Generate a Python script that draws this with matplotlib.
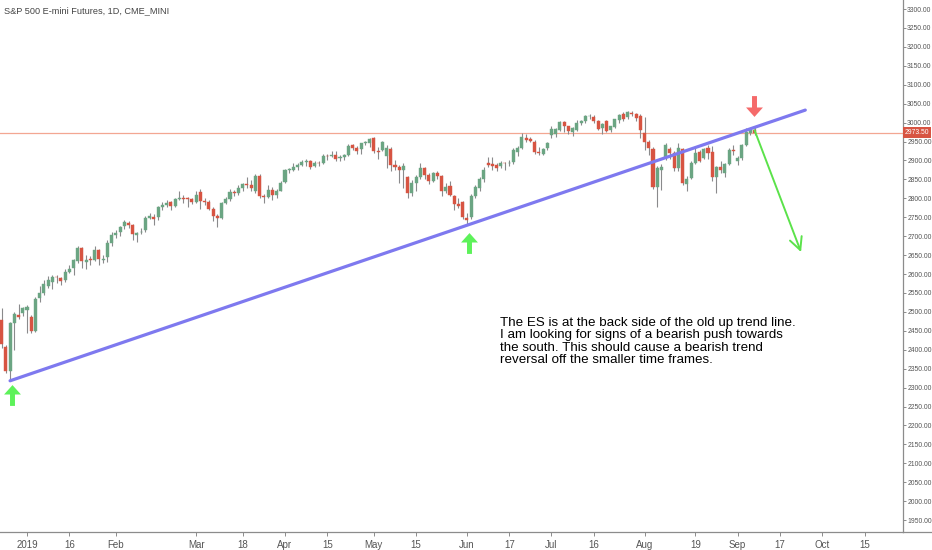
import numpy as np
import pandas as pd
import matplotlib
matplotlib.use("Agg")
import matplotlib.pyplot as plt
from matplotlib.lines import Line2D
from matplotlib.path import Path
from matplotlib.transforms import offset_copy, blended_transform_factory

plt.rcParams['font.family'] = ['Liberation Sans', 'DejaVu Sans']

# trading calendar (NYSE holidays skipped, like the chart's x axis)
holidays = ['2018-12-25', '2019-01-01', '2019-01-21', '2019-02-18',
            '2019-04-19', '2019-05-27', '2019-07-04', '2019-09-02',
            '2019-11-28']
first_day = '2018-12-21'
last_axis_day = '2019-11-15'

# daily OHLC, Dec 21 2018 .. Sep 9 2019
opens = [
    2478, 2407, 2343, 2470, 2492, 2497,
    2505, 2487, 2449, 2537, 2550, 2569, 2579, 2593, 2590, 2584, 2605, 2616, 2634, 2670, 2631, 2637, 2637, 2664, 2636, 2645, 2682,
    2703, 2710, 2726, 2734, 2730, 2704, 2710, 2716, 2748, 2750, 2750, 2778, 2783, 2790, 2780, 2797, 2800, 2798, 2797,
    2790, 2817, 2792, 2790, 2772, 2752, 2748, 2788, 2797, 2816, 2813, 2828, 2838, 2836, 2820, 2860, 2805, 2803, 2822, 2810, 2820,
    2842, 2875, 2876, 2882, 2888, 2895, 2899, 2886, 2894, 2893, 2913, 2911, 2915, 2906, 2909, 2914, 2940, 2933, 2931, 2945, 2946,
    2958, 2926, 2928, 2912, 2930, 2888, 2883, 2874, 2856, 2815, 2840, 2855, 2879, 2862, 2845, 2868, 2859, 2820, 2833, 2806, 2785, 2790,
    2747, 2750, 2806, 2828, 2850, 2893, 2891, 2888, 2886, 2892, 2893, 2896, 2922, 2933, 2960, 2956, 2948, 2923, 2918, 2933,
    2967, 2970, 2980, 3001, 2990, 2975, 2980, 2999, 3004, 3017, 3015, 3004, 2985, 3004, 2980, 2988, 3007, 3024, 3015, 3026, 3023, 3017,
    2972, 2948, 2930, 2830, 2875, 2906, 2930, 2920, 2880, 2930, 2838, 2853, 2893, 2922, 2906, 2933, 2922, 2856, 2883, 2867, 2891, 2928,
    2898, 2906, 2941, 2973, 2980,
]
highs = [
    2510, 2412, 2473, 2500, 2522, 2514,
    2519, 2493, 2540, 2568, 2585, 2596, 2598, 2598, 2593, 2614, 2625, 2640, 2675, 2672, 2651, 2648, 2675, 2666, 2650, 2690, 2710,
    2716, 2727, 2742, 2740, 2732, 2712, 2722, 2752, 2762, 2758, 2780, 2790, 2795, 2793, 2800, 2818, 2808, 2804, 2800,
    2820, 2824, 2800, 2795, 2776, 2758, 2790, 2804, 2825, 2822, 2834, 2840, 2857, 2848, 2864, 2864, 2812, 2834, 2830, 2825, 2845,
    2878, 2880, 2893, 2892, 2900, 2903, 2900, 2898, 2899, 2917, 2918, 2924, 2925, 2914, 2918, 2943, 2944, 2938, 2946, 2952, 2960,
    2962, 2935, 2952, 2940, 2935, 2900, 2888, 2894, 2860, 2848, 2862, 2892, 2883, 2866, 2870, 2872, 2861, 2840, 2845, 2808, 2800, 2792,
    2762, 2812, 2834, 2856, 2882, 2910, 2910, 2892, 2898, 2896, 2902, 2934, 2937, 2972, 2970, 2962, 2955, 2935, 2932, 2949,
    2990, 2985, 3003, 3004, 2992, 2988, 3008, 3008, 3020, 3022, 3020, 3008, 2998, 3008, 2992, 3010, 3022, 3028, 3030, 3030, 3025, 3022,
    3016, 2955, 2935, 2885, 2890, 2945, 2935, 2925, 2945, 2932, 2858, 2898, 2935, 2928, 2932, 2940, 2938, 2885, 2898, 2893, 2933, 2942,
    2912, 2943, 2985, 2985, 2990,
]
lows = [
    2405, 2338, 2317, 2400, 2480, 2490,
    2443, 2443, 2446, 2525, 2545, 2562, 2560, 2577, 2570, 2580, 2602, 2598, 2630, 2615, 2614, 2625, 2635, 2625, 2630, 2632, 2675,
    2695, 2700, 2720, 2722, 2690, 2685, 2705, 2712, 2745, 2730, 2742, 2770, 2778, 2770, 2776, 2795, 2788, 2778, 2785,
    2788, 2772, 2782, 2768, 2740, 2725, 2745, 2784, 2792, 2806, 2810, 2820, 2828, 2818, 2815, 2800, 2788, 2800, 2795, 2802, 2818,
    2840, 2868, 2872, 2876, 2885, 2885, 2878, 2882, 2886, 2890, 2900, 2908, 2898, 2898, 2902, 2911, 2928, 2917, 2918, 2940, 2935,
    2920, 2905, 2924, 2880, 2873, 2876, 2840, 2827, 2800, 2805, 2818, 2852, 2850, 2838, 2842, 2852, 2806, 2815, 2805, 2768, 2775, 2745,
    2730, 2745, 2800, 2818, 2843, 2884, 2874, 2872, 2881, 2876, 2886, 2890, 2912, 2930, 2950, 2948, 2916, 2915, 2915, 2928,
    2960, 2962, 2978, 2975, 2970, 2965, 2978, 2993, 3000, 3010, 3000, 2980, 2970, 2975, 2975, 2985, 3000, 3005, 3010, 3018, 3005, 2959,
    2928, 2915, 2825, 2778, 2822, 2900, 2905, 2873, 2873, 2835, 2820, 2850, 2890, 2895, 2903, 2905, 2845, 2814, 2866, 2855, 2889, 2915,
    2888, 2900, 2938, 2968, 2966,
]
closes = [
    2414, 2343, 2470, 2495, 2487, 2510,
    2512, 2449, 2535, 2550, 2574, 2583, 2593, 2591, 2581, 2606, 2613, 2637, 2670, 2634, 2638, 2636, 2664, 2641, 2640, 2682, 2703,
    2708, 2724, 2738, 2730, 2705, 2708, 2711, 2748, 2752, 2745, 2777, 2783, 2788, 2780, 2797, 2800, 2798, 2797, 2790,
    2810, 2792, 2790, 2772, 2752, 2748, 2788, 2797, 2816, 2813, 2828, 2838, 2836, 2828, 2860, 2805, 2803, 2822, 2810, 2820, 2840,
    2875, 2877, 2882, 2888, 2896, 2899, 2884, 2894, 2892, 2913, 2911, 2914, 2905, 2909, 2915, 2938, 2933, 2926, 2945, 2949, 2956,
    2924, 2921, 2948, 2934, 2888, 2883, 2874, 2886, 2813, 2840, 2856, 2879, 2862, 2845, 2868, 2859, 2820, 2829, 2808, 2785, 2781, 2750,
    2742, 2806, 2830, 2852, 2876, 2889, 2885, 2880, 2893, 2891, 2894, 2928, 2934, 2962, 2953, 2952, 2922, 2919, 2930, 2946,
    2983, 2983, 3001, 2990, 2977, 2985, 2999, 3004, 3017, 3018, 3004, 2983, 2995, 2977, 2990, 3009, 3020, 3010, 3028, 3023, 3012, 2980,
    2948, 2933, 2830, 2880, 2883, 2940, 2920, 2880, 2933, 2840, 2851, 2893, 2920, 2898, 2930, 2920, 2856, 2883, 2875, 2891, 2928, 2926,
    2906, 2941, 2975, 2980, 2973.5,
]

# drawings on the chart
trend_start = ('2018-12-26', 2318)
trend_end = ('2019-09-25', 3033)
target_start = ('2019-09-09', 2980)
target_end = ('2019-09-24', 2658)
up_marks = ['2018-12-26', '2019-06-03']
down_marks = ['2019-09-09']

tick_dates = ['2019-01-02', '2019-01-16', '2019-02-01', '2019-03-01', '2019-03-18',
              '2019-04-01', '2019-04-15', '2019-05-01', '2019-05-15', '2019-06-03',
              '2019-06-17', '2019-07-01', '2019-07-16', '2019-08-01', '2019-08-19',
              '2019-09-03', '2019-09-17', '2019-10-01', '2019-10-15']
tick_labels = ['2019', '16', 'Feb', 'Mar', '18', 'Apr', '15', 'May', '15', 'Jun',
               '17', 'Jul', '16', 'Aug', '19', 'Sep', '17', 'Oct', '15']

note = ("The ES is at the back side of the old up trend line.\n"
        "I am looking for signs of a bearish push towards\n"
        "the south. This should cause a bearish trend\n"
        "reversal off the smaller time frames.")

days = pd.bdate_range(first_day, last_axis_day, freq='C', holidays=holidays)
pos = {d.strftime('%Y-%m-%d'): i for i, d in enumerate(days)}

o = np.array(opens, float)
h = np.array(highs, float)
l = np.array(lows, float)
c = np.array(closes, float)
x = np.arange(len(c))

up_col = '#6ba583'
dn_col = '#d75442'
wick_col = '#8a8a8c'
cols = np.where(c >= o, up_col, dn_col)

fig = plt.figure(figsize=(9.32, 5.5), dpi=100)
ax = fig.add_axes([0, 18 / 550, 903 / 932, 532 / 550])

ax.vlines(x, l, h, color=wick_col, lw=0.8, zorder=2)
body = np.where(np.abs(c - o) < 1.5, 1.5, c - o)
ax.bar(x, body, bottom=o, width=0.72, color=cols, edgecolor=cols, lw=0.3, zorder=3)

# last price line
last = c[-1]
ax.axhline(last, color='#f3a792', lw=0.9, zorder=1)

# trend line
ax.plot([pos[trend_start[0]], pos[trend_end[0]]], [trend_start[1], trend_end[1]],
        color='#7e79ef', lw=2.3, solid_capstyle='round', zorder=4)

# target arrow
ax.annotate('', xy=(pos[target_end[0]], target_end[1]),
            xytext=(pos[target_start[0]], target_start[1]),
            arrowprops=dict(arrowstyle='->,head_length=0.9,head_width=0.45',
                            color='#5be24a', lw=1.4, shrinkA=0, shrinkB=0),
            zorder=5)

# arrow marks
arrow_verts = [(0, 10.5), (8.5, 1), (2.5, 1), (2.5, -10.5), (-2.5, -10.5),
               (-2.5, 1), (-8.5, 1), (0, 10.5)]
up_arrow = Path(arrow_verts, [Path.MOVETO] + [Path.LINETO] * 6 + [Path.CLOSEPOLY])
down_arrow = Path([(vx, -vy) for vx, vy in arrow_verts],
                  [Path.MOVETO] + [Path.LINETO] * 6 + [Path.CLOSEPOLY])
for i, d in enumerate(up_marks):
    k = pos[d]
    tr = offset_copy(ax.transData, fig=fig, x=2, y=-14 - 4 * i, units='dots')
    ax.plot(k, l[k], marker=up_arrow, ms=15, color='#5df25a', mec='none',
            transform=tr, zorder=6, clip_on=False)
for d in down_marks:
    k = pos[d]
    tr = offset_copy(ax.transData, fig=fig, x=-1, y=20, units='dots')
    ax.plot(k, h[k], marker=down_arrow, ms=15, color='#f56a6a', mec='none',
            transform=tr, zorder=6)

ax.text(pos['2019-06-13'] - 0.2, 2486, note, fontsize=9.6, color='#000000',
        va='top', ha='left', linespacing=1.02, zorder=6)

ax.set_xlim(pos['2019-01-02'] - 6.38, pos['2019-01-02'] + 207.1)
ax.set_ylim(1918.6, 3323.8)

ax.set_xticks([pos[d] for d in tick_dates])
ax.set_xticklabels(tick_labels)
yt = np.arange(1950, 3301, 50)
ax.set_yticks(yt)
ax.set_yticklabels(['%.2f' % v for v in yt])
ax.yaxis.tick_right()

for s in ['top', 'left']:
    ax.spines[s].set_visible(False)
for s in ['right', 'bottom']:
    ax.spines[s].set_color('#8c8c8c')
    ax.spines[s].set_linewidth(0.9)
ax.tick_params(axis='both', colors='#8c8c8c', labelcolor='#555555',
               labelsize=7, length=3, width=0.7, pad=2)
ax.tick_params(axis='y', labelsize=4.9, length=2, pad=1)
ax.tick_params(axis='x', pad=3)

# time axis line continues under the price scale
fig.add_artist(Line2D([903 / 932, 1], [18 / 550, 18 / 550], color='#8c8c8c', lw=0.9))

# price tag on the axis
tag_tr = blended_transform_factory(ax.transAxes, ax.transData)
ax.text(1.002, last, '%.2f' % last, transform=tag_tr, fontsize=4.9, color='white',
        va='center', ha='left', clip_on=False, zorder=7,
        bbox=dict(boxstyle='square,pad=0.3', fc=dn_col, ec='none'))

fig.text(4 / 932, 1 - 11 / 550, 'S&P 500 E-mini Futures, 1D, CME_MINI',
         fontsize=6.6, color='#444444', va='center', ha='left')

fig.savefig('out.png', dpi=100, facecolor='white')
